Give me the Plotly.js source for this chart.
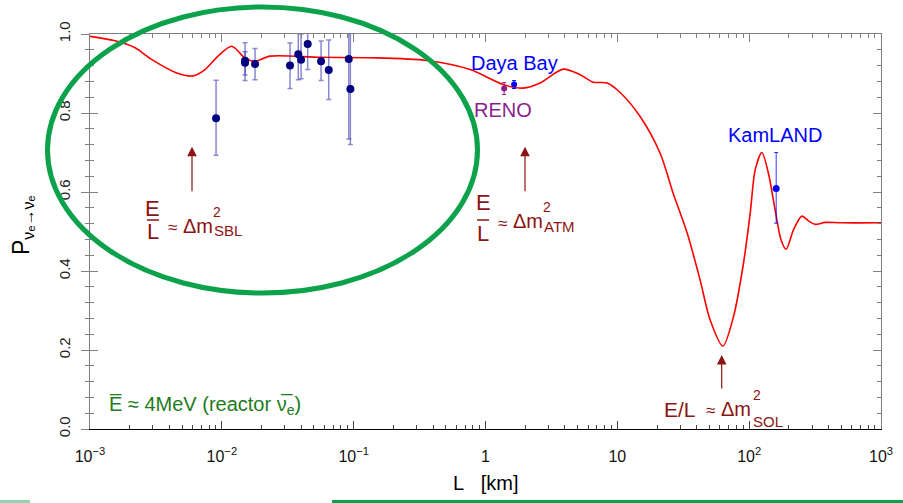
<!DOCTYPE html>
<html>
<head>
<meta charset="utf-8">
<script src="https://cdn.plot.ly/plotly-3.0.1.min.js"></script>
<style>html,body{margin:0;padding:0;background:#fff;}#chart{width:903px;height:503px;}</style>
</head>
<body>
<div id="chart"></div>
<script>
// ---- Data ----
const curveL = [0.001, 0.00163, 0.0022, 0.00295, 0.0045, 0.00605, 0.00746, 0.00936, 0.01189, 0.0150, 0.01786, 0.02321, 0.0556, 0.1331, 0.3606, 0.764, 1.360, 1.929, 2.596, 3.879, 5.222, 6.552, 8.368, 10.50, 14.89, 21.12, 26.51, 33.86, 42.48, 50.58, 63.17, 76.0, 90.5, 101.8, 111.1, 124.9, 140.1, 157.5, 174.9, 190.9, 216.8, 251.1, 281.8, 316.8, 377.3, 500, 1000];
const curveP = [0.994, 0.981, 0.965, 0.935, 0.902, 0.894, 0.910, 0.944, 0.969, 0.939, 0.931, 0.944, 0.941, 0.940, 0.933, 0.910, 0.872, 0.863, 0.876, 0.911, 0.897, 0.878, 0.876, 0.852, 0.791, 0.698, 0.597, 0.496, 0.377, 0.276, 0.210, 0.284, 0.419, 0.546, 0.656, 0.700, 0.647, 0.554, 0.478, 0.455, 0.504, 0.539, 0.527, 0.518, 0.523, 0.522, 0.522];

const sblL = [0.00904, 0.0150, 0.0150, 0.01786, 0.0329, 0.0380, 0.0399, 0.0448, 0.0566, 0.0647, 0.0918, 0.0944];
const sblP = [0.787, 0.932, 0.927, 0.924, 0.920, 0.949, 0.935, 0.975, 0.931, 0.909, 0.937, 0.861];
const sblErrUp = [0.096, 0.046, 0.028, 0.039, 0.057, 0.070, 0.065, 0.065, 0.051, 0.076, 0.200, 0.140];
const sblErrDn = [0.094, 0.050, 0.031, 0.040, 0.058, 0.065, 0.048, 0.065, 0.049, 0.075, 0.203, 0.141];

const dayaL = [1.648], dayaP = [0.872], dayaErr = [0.010];
const renoL = [1.384], renoP = [0.862], renoErr = [0.015];
const kamL = [160.3], kamP = [0.609], kamErrUp = [0.091], kamErrDn = [0.088];

const xTickVals = [0.001, 0.01, 0.1, 1, 10, 100, 1000];
const xTickText = ['10<sup>\u22123</sup>', '10<sup>\u22122</sup>', '10<sup>\u22121</sup>', '1', '10', '10<sup>2</sup>', '10<sup>3</sup>'];
const yTickVals = [0, 0.2, 0.4, 0.6, 0.8, 1.0];
const yTickText = ['0.0', '0.2', '0.4', '0.6', '0.8', '1.0'];

// ---- Layout helpers (pixel -> paper) ----
const W = 903, H = 503, ML = 90, MR = 22, MT = 34, MB = 74;
const PW = W - ML - MR, PH = H - MT - MB;
const px = x => (x - ML) / PW;
const py = y => (H - MB - y) / PH;

const minorX = [];
[0.001, 0.01, 0.1, 1, 10, 100].forEach(d => { for (let k = 2; k <= 9; k++) minorX.push(d * k); });

const FONT = 'Liberation Sans, Arial, Helvetica, sans-serif';
const DRED = '#8b1414';
const GRAY = '#808080';

const traces = [
  { x: curveL, y: curveP, type: 'scatter', mode: 'lines', line: { color: '#ff0000', width: 1.6, shape: 'spline', smoothing: 0.8 }, hoverinfo: 'skip' },
  { x: sblL, y: sblP, type: 'scatter', mode: 'markers', marker: { color: '#000080', size: 8 },
    error_y: { type: 'data', symmetric: false, array: sblErrUp, arrayminus: sblErrDn, color: 'rgba(40,40,170,0.55)', thickness: 1.5, width: 2.5 } },
  { x: renoL, y: renoP, type: 'scatter', mode: 'markers', marker: { color: '#8a1f8a', size: 6 },
    error_y: { type: 'data', array: renoErr, color: '#8a1f8a', thickness: 1, width: 2 } },
  { x: dayaL, y: dayaP, type: 'scatter', mode: 'markers', marker: { color: '#0000ff', size: 6 },
    error_y: { type: 'data', array: dayaErr, color: '#0000ff', thickness: 1, width: 2 } },
  { x: kamL, y: kamP, type: 'scatter', mode: 'markers', marker: { color: '#0000ff', size: 7 },
    error_y: { type: 'data', symmetric: false, array: kamErrUp, arrayminus: kamErrDn, color: 'rgba(0,0,255,0.8)', thickness: 1, width: 2 } },
  { x: [1], y: [0.5], xaxis: 'x2', yaxis: 'y2', type: 'scatter', mode: 'markers', marker: { opacity: 0 }, hoverinfo: 'skip' }
];

function txt(text, x, y, size, color, xanchor, extra) {
  return Object.assign({ text: text, x: px(x), y: py(y), xref: 'paper', yref: 'paper', showarrow: false,
    xanchor: xanchor || 'center', yanchor: 'middle', font: { family: FONT, size: size, color: color } }, extra || {});
}
function arrow(x, yHead, yTail) {
  return { text: '', x: px(x), y: py(yHead), xref: 'paper', yref: 'paper', showarrow: true, ax: 0, ay: yTail - yHead,
    axref: 'pixel', ayref: 'pixel', arrowhead: 2, arrowsize: 1.6, arrowwidth: 1.2, arrowcolor: DRED, standoff: 0, startstandoff: 0 };
}

const annotations = [
  txt('Daya Bay', 514, 63, 20, '#0000ff'),
  txt('RENO', 503, 110, 20, '#8a1f8a'),
  txt('KamLAND', 775, 135, 20, '#0000ff'),
  // SBL
  txt('E', 152.5, 208.5, 22, DRED), txt('L', 153, 231.5, 22, DRED),
  txt('\u2248', 172, 228, 17, DRED), txt('\u0394m', 181, 226, 20, DRED, 'left'),
  txt('2', 216.5, 212, 14, DRED), txt('SBL', 211.5, 230, 15, DRED, 'left'),
  arrow(192, 146.7, 192.7),
  // ATM
  txt('E', 483, 203, 22, DRED), txt('L', 483, 233.5, 22, DRED),
  txt('\u2248', 502, 223, 17, DRED), txt('\u0394m', 511, 221, 20, DRED, 'left'),
  txt('2', 546.5, 207, 14, DRED), txt('ATM', 541.5, 226, 15, DRED, 'left'),
  arrow(525, 146.7, 192.7),
  // SOL
  txt('E/L', 662, 409, 21, DRED, 'left'), txt('\u2248', 710, 410, 17, DRED),
  txt('\u0394m', 719, 409, 20, DRED, 'left'), txt('2', 756.5, 395, 14, DRED), txt('SOL', 751, 421, 15, DRED, 'left'),
  arrow(721.7, 355, 390),
  // reactor label
  txt('E\u0305 \u2248 4MeV (reactor \u03bd\u0305<sub>e</sub>)', 107, 405, 20, '#1e7b1e', 'left'),
  // axis titles
  txt('L\u00a0\u00a0\u00a0[km]', 486, 483, 20, '#000'),
  txt('P<sub>\u03bd\u2091\u2192\u03bd\u2091</sub>', 22, 225, 23, '#000', 'center', { textangle: -90 })
];

const shapes = [
  { type: 'line', xref: 'paper', yref: 'paper', x0: px(147), x1: px(159), y0: py(220), y1: py(220), line: { color: DRED, width: 1.5 } },
  { type: 'line', xref: 'paper', yref: 'paper', x0: px(477), x1: px(489), y0: py(220), y1: py(220), line: { color: DRED, width: 1.5 } },
  { type: 'circle', xref: 'paper', yref: 'paper', x0: px(47.5), x1: px(477.5), y0: py(293), y1: py(7), line: { color: '#0ba24b', width: 5 } },
  { type: 'line', xref: 'paper', yref: 'paper', x0: px(332), x1: px(903), y0: py(501.5), y1: py(501.5), line: { color: '#0ba24b', width: 3 } },
  { type: 'line', xref: 'paper', yref: 'paper', x0: px(0), x1: px(30), y0: py(501.5), y1: py(501.5), line: { color: 'rgba(11,162,75,0.45)', width: 3 } }
];

const layout = {
  width: W, height: H,
  margin: { l: ML, r: MR, t: MT, b: MB, pad: 0 },
  paper_bgcolor: '#fff', plot_bgcolor: '#fff',
  showlegend: false,
  font: { family: FONT, color: '#000' },
  xaxis: { type: 'log', range: [-3, 3], showgrid: false, zeroline: false, showline: true, linecolor: '#000', linewidth: 1.3,
    ticks: 'inside', ticklen: 8, tickcolor: '#444', tickwidth: 1, tickvals: xTickVals, ticktext: xTickText,
    tickfont: { family: FONT, size: 16, color: '#111' }, ticklabelstandoff: 12,
    minor: { tickvals: minorX, ticks: 'inside', ticklen: 4, tickcolor: '#444', showgrid: false } },
  xaxis2: { type: 'log', range: [-3, 3], overlaying: 'x', side: 'top', showgrid: false, zeroline: false, showline: true, linecolor: GRAY, linewidth: 1.3,
    ticks: 'inside', ticklen: 8, tickcolor: GRAY, tickvals: xTickVals, showticklabels: false,
    minor: { tickvals: minorX, ticks: 'inside', ticklen: 4, tickcolor: GRAY, showgrid: false } },
  yaxis: { range: [0, 1], showgrid: false, zeroline: false, showline: true, linecolor: GRAY, linewidth: 1.3,
    ticks: 'outside', ticklen: 8, tickcolor: GRAY, tickvals: yTickVals, ticktext: yTickText, tickangle: -90,
    tickfont: { family: FONT, size: 15, color: '#222' }, ticklabelstandoff: 5,
    minor: { dtick: 0.04, ticks: 'outside', ticklen: 4, tickcolor: GRAY, showgrid: false } },
  yaxis2: { range: [0, 1], overlaying: 'y', side: 'left', showgrid: false, zeroline: false, showline: true, mirror: 'ticks', linecolor: GRAY, linewidth: 1.3,
    ticks: 'inside', ticklen: 8, tickcolor: GRAY, tickvals: yTickVals, showticklabels: false,
    minor: { dtick: 0.04, ticks: 'inside', ticklen: 4, tickcolor: GRAY, showgrid: false } },
  annotations: annotations,
  shapes: shapes
};

Plotly.newPlot('chart', traces, layout, { staticPlot: true, displayModeBar: false });
</script>
</body>
</html>
